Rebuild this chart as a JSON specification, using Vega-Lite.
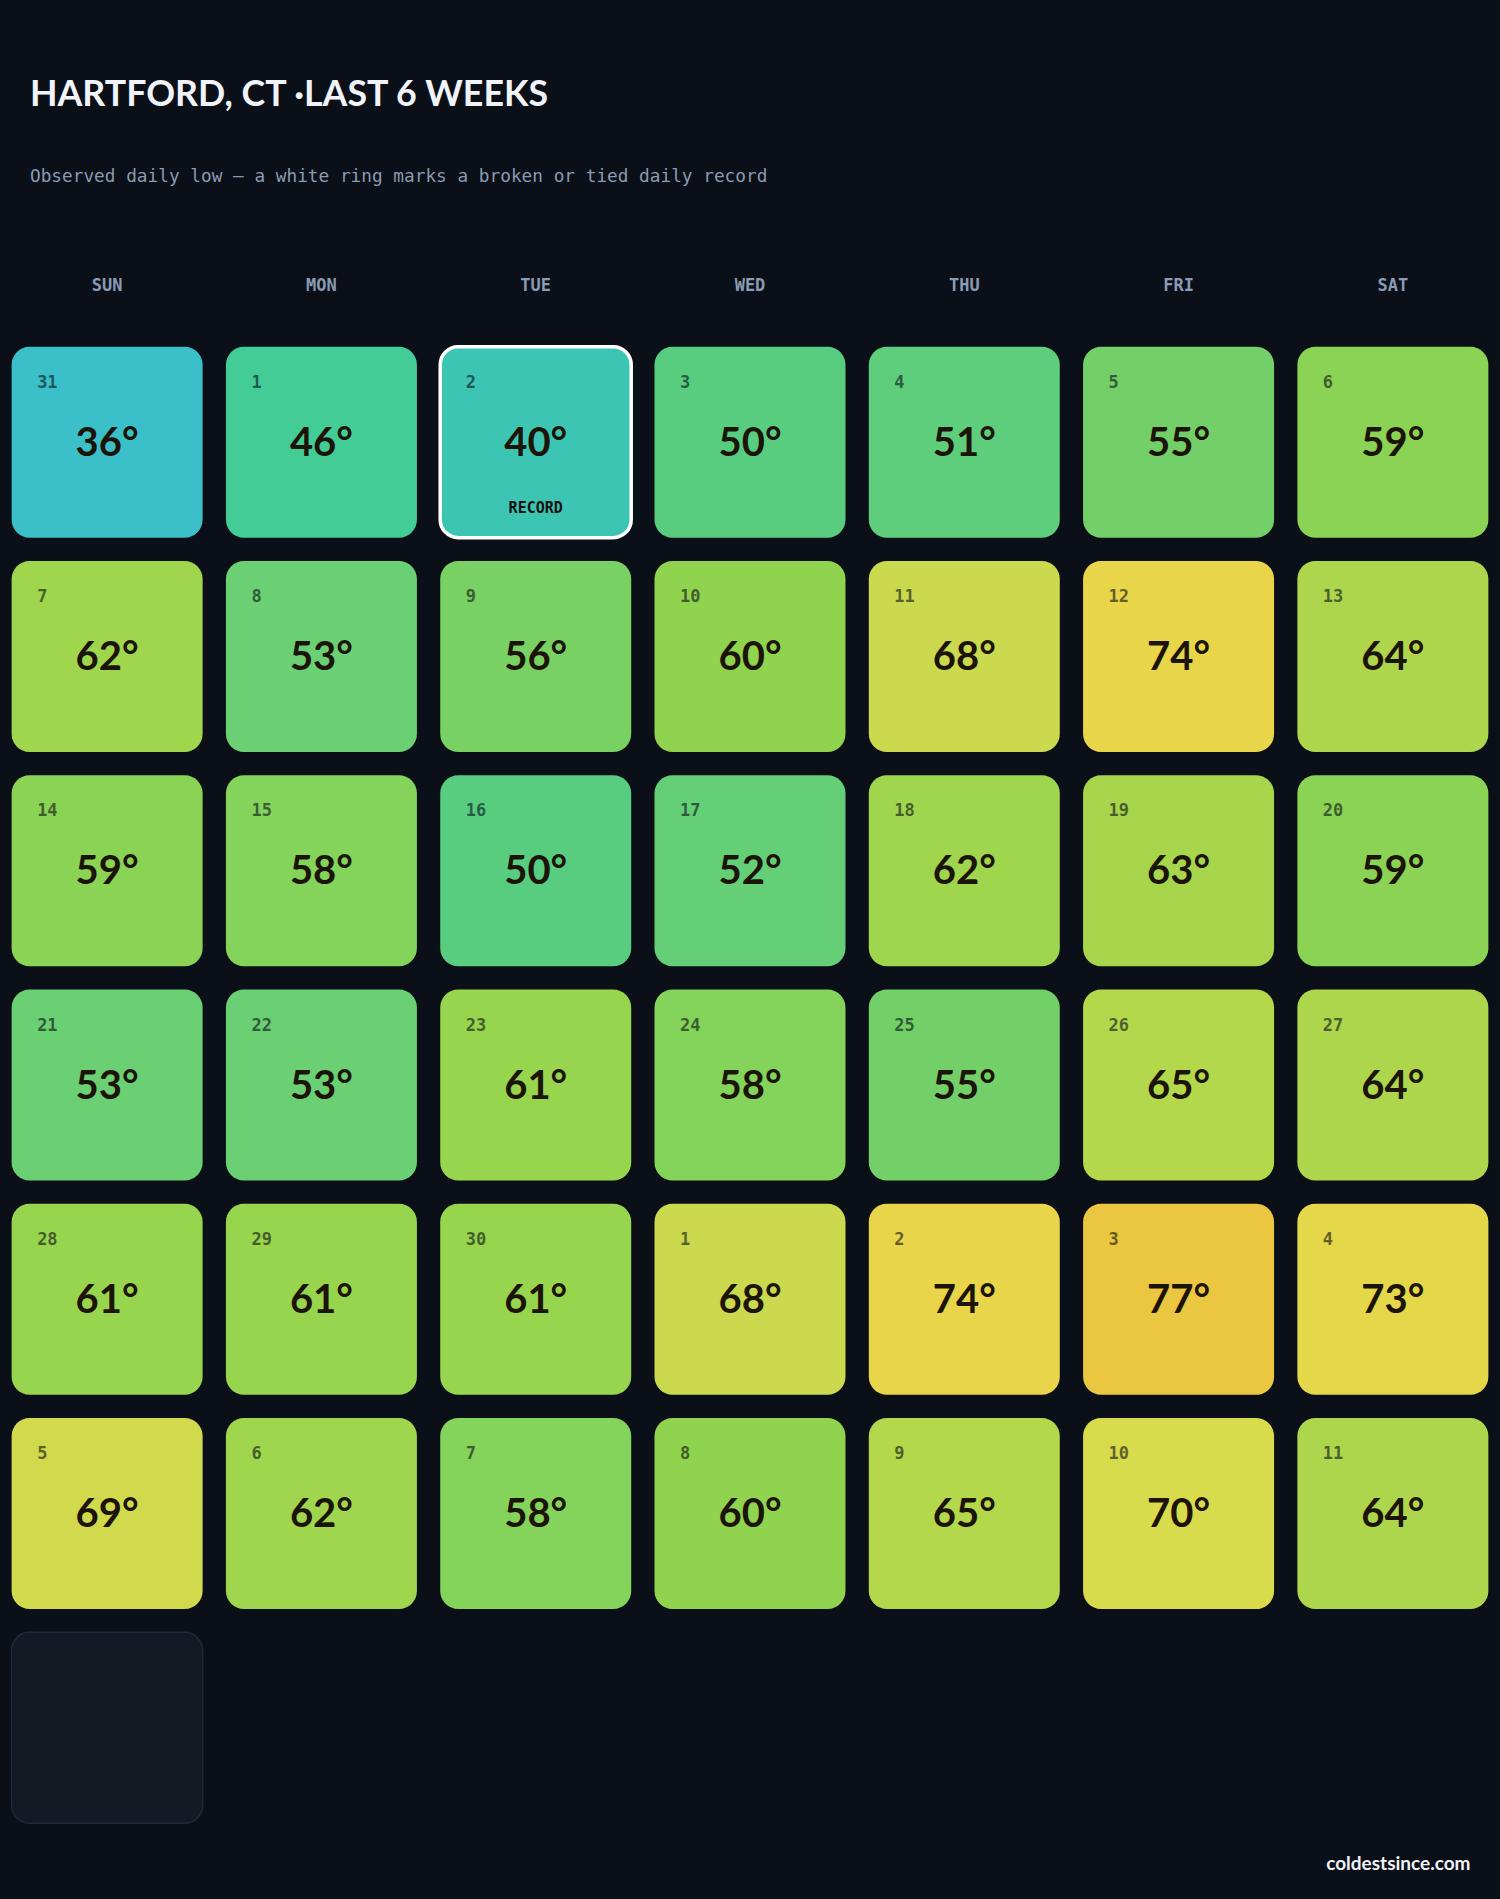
{
  "$schema": "https://vega.github.io/schema/vega-lite/v6.json",
  "width": 1500,
  "height": 1500,
  "autosize": {"type": "none"},
  "padding": {"top": 335, "left": 0, "right": 0, "bottom": 64},
  "background": "#0b0f17",
  "config": {"view": {"stroke": null}},
  "title": {
    "text": "HARTFORD, CT ·LAST 6 WEEKS",
    "subtitle": "Observed daily low — a white ring marks a broken or tied daily record",
    "anchor": "start",
    "frame": "group",
    "dx": 30,
    "offset": 90.4,
    "font": "Lato",
    "fontSize": 35.75,
    "fontWeight": "bold",
    "color": "#f0f4fa",
    "subtitleFont": "DejaVu Sans Mono",
    "subtitleFontSize": 17.75,
    "subtitleColor": "#8a9bb0",
    "subtitlePadding": 53.4
  },
  "data": {
    "values": [
      {"week": 0, "dow": "SUN", "day": 31, "temp": 36},
      {"week": 0, "dow": "MON", "day": 1, "temp": 46},
      {"week": 0, "dow": "TUE", "day": 2, "temp": 40, "record": true},
      {"week": 0, "dow": "WED", "day": 3, "temp": 50},
      {"week": 0, "dow": "THU", "day": 4, "temp": 51},
      {"week": 0, "dow": "FRI", "day": 5, "temp": 55},
      {"week": 0, "dow": "SAT", "day": 6, "temp": 59},
      {"week": 1, "dow": "SUN", "day": 7, "temp": 62},
      {"week": 1, "dow": "MON", "day": 8, "temp": 53},
      {"week": 1, "dow": "TUE", "day": 9, "temp": 56},
      {"week": 1, "dow": "WED", "day": 10, "temp": 60},
      {"week": 1, "dow": "THU", "day": 11, "temp": 68},
      {"week": 1, "dow": "FRI", "day": 12, "temp": 74},
      {"week": 1, "dow": "SAT", "day": 13, "temp": 64},
      {"week": 2, "dow": "SUN", "day": 14, "temp": 59},
      {"week": 2, "dow": "MON", "day": 15, "temp": 58},
      {"week": 2, "dow": "TUE", "day": 16, "temp": 50},
      {"week": 2, "dow": "WED", "day": 17, "temp": 52},
      {"week": 2, "dow": "THU", "day": 18, "temp": 62},
      {"week": 2, "dow": "FRI", "day": 19, "temp": 63},
      {"week": 2, "dow": "SAT", "day": 20, "temp": 59},
      {"week": 3, "dow": "SUN", "day": 21, "temp": 53},
      {"week": 3, "dow": "MON", "day": 22, "temp": 53},
      {"week": 3, "dow": "TUE", "day": 23, "temp": 61},
      {"week": 3, "dow": "WED", "day": 24, "temp": 58},
      {"week": 3, "dow": "THU", "day": 25, "temp": 55},
      {"week": 3, "dow": "FRI", "day": 26, "temp": 65},
      {"week": 3, "dow": "SAT", "day": 27, "temp": 64},
      {"week": 4, "dow": "SUN", "day": 28, "temp": 61},
      {"week": 4, "dow": "MON", "day": 29, "temp": 61},
      {"week": 4, "dow": "TUE", "day": 30, "temp": 61},
      {"week": 4, "dow": "WED", "day": 1, "temp": 68},
      {"week": 4, "dow": "THU", "day": 2, "temp": 74},
      {"week": 4, "dow": "FRI", "day": 3, "temp": 77},
      {"week": 4, "dow": "SAT", "day": 4, "temp": 73},
      {"week": 5, "dow": "SUN", "day": 5, "temp": 69},
      {"week": 5, "dow": "MON", "day": 6, "temp": 62},
      {"week": 5, "dow": "TUE", "day": 7, "temp": 58},
      {"week": 5, "dow": "WED", "day": 8, "temp": 60},
      {"week": 5, "dow": "THU", "day": 9, "temp": 65},
      {"week": 5, "dow": "FRI", "day": 10, "temp": 70},
      {"week": 5, "dow": "SAT", "day": 11, "temp": 64},
      {"week": 6, "dow": "SUN", "day": null, "temp": null}
    ]
  },
  "resolve": {"axis": {"x": "independent"}},
  "layer": [
    {
      "transform": [{"filter": "datum.temp != null"}],
      "mark": {"type": "rect", "cornerRadius": 18, "strokeWidth": 3.5},
      "encoding": {
        "x": {
          "field": "dow", "type": "ordinal",
          "scale": {"domain": ["SUN", "MON", "TUE", "WED", "THU", "FRI", "SAT"], "paddingInner": 0.1087, "paddingOuter": 0.0543},
          "axis": {
            "orient": "top", "title": null, "domain": false, "ticks": false,
            "labelPadding": 49.3, "labelBaseline": "middle",
            "labelFont": "DejaVu Sans Mono", "labelFontWeight": "bold", "labelFontSize": 17,
            "labelColor": "#8a9bb4", "labelAngle": 0
          }
        },
        "y": {
          "field": "week", "type": "ordinal",
          "scale": {"domain": [0, 1, 2, 3, 4, 5, 6], "paddingInner": 0.1087, "paddingOuter": 0.0543},
          "axis": null
        },
        "color": {
          "field": "temp", "type": "quantitative", "legend": null,
          "scale": {
            "domain": [36, 40, 46, 50, 53, 55, 58, 60, 62, 64, 65, 68, 70, 74, 77],
            "range": ["#3bbfc8", "#3cc5b2", "#44cc96", "#58cd80", "#6ad073", "#73cf68", "#84d35a", "#8fd34e", "#a0d64e", "#aed64c", "#b4d84c", "#cad94e", "#d8db4c", "#e8d549", "#ebc641"],
            "interpolate": "rgb"
          }
        },
        "stroke": {"condition": {"test": "datum.record == true", "value": "#ffffff"}, "value": "transparent"}
      }
    },
    {
      "transform": [{"filter": "datum.temp == null"}],
      "mark": {"type": "rect", "cornerRadius": 18, "fill": "#131a24", "stroke": "#1f2a39", "strokeWidth": 1.5},
      "encoding": {
        "x": {"field": "dow", "type": "ordinal", "axis": null},
        "y": {"field": "week", "type": "ordinal", "axis": null}
      }
    },
    {
      "transform": [{"filter": "datum.temp != null"}],
      "mark": {"type": "text", "align": "left", "baseline": "middle", "dx": -70, "dy": -59.5, "font": "DejaVu Sans Mono", "fontWeight": "bold", "fontSize": 17, "color": "#0b0f17", "opacity": 0.6},
      "encoding": {
        "x": {"field": "dow", "type": "ordinal", "axis": null},
        "y": {"field": "week", "type": "ordinal", "axis": null},
        "text": {"field": "day", "type": "quantitative"}
      }
    },
    {
      "transform": [{"filter": "datum.temp != null"}, {"calculate": "datum.temp + '°'", "as": "label"}],
      "mark": {"type": "text", "align": "center", "baseline": "middle", "dy": 1.5, "font": "Lato", "fontWeight": "bold", "fontSize": 40, "color": "#1c1409"},
      "encoding": {
        "x": {
          "field": "dow", "type": "ordinal",
          "axis": {
            "orient": "bottom", "labels": false, "ticks": false, "domain": false,
            "title": "coldestsince.com", "titleFont": "Lato", "titleFontWeight": "bold", "titleFontSize": 19,
            "titleColor": "#eef2f7", "titleAnchor": "end", "titleAlign": "right", "titleX": 1470, "titleY": 28, "titleBaseline": "middle"
          }
        },
        "y": {"field": "week", "type": "ordinal", "axis": null},
        "text": {"field": "label", "type": "nominal"}
      }
    },
    {
      "transform": [{"filter": "datum.record == true"}],
      "mark": {"type": "text", "align": "center", "baseline": "middle", "dy": 65.5, "font": "DejaVu Sans Mono", "fontWeight": "bold", "fontSize": 15, "color": "#111111", "text": "RECORD"},
      "encoding": {
        "x": {"field": "dow", "type": "ordinal", "axis": null},
        "y": {"field": "week", "type": "ordinal", "axis": null}
      }
    }
  ]
}
